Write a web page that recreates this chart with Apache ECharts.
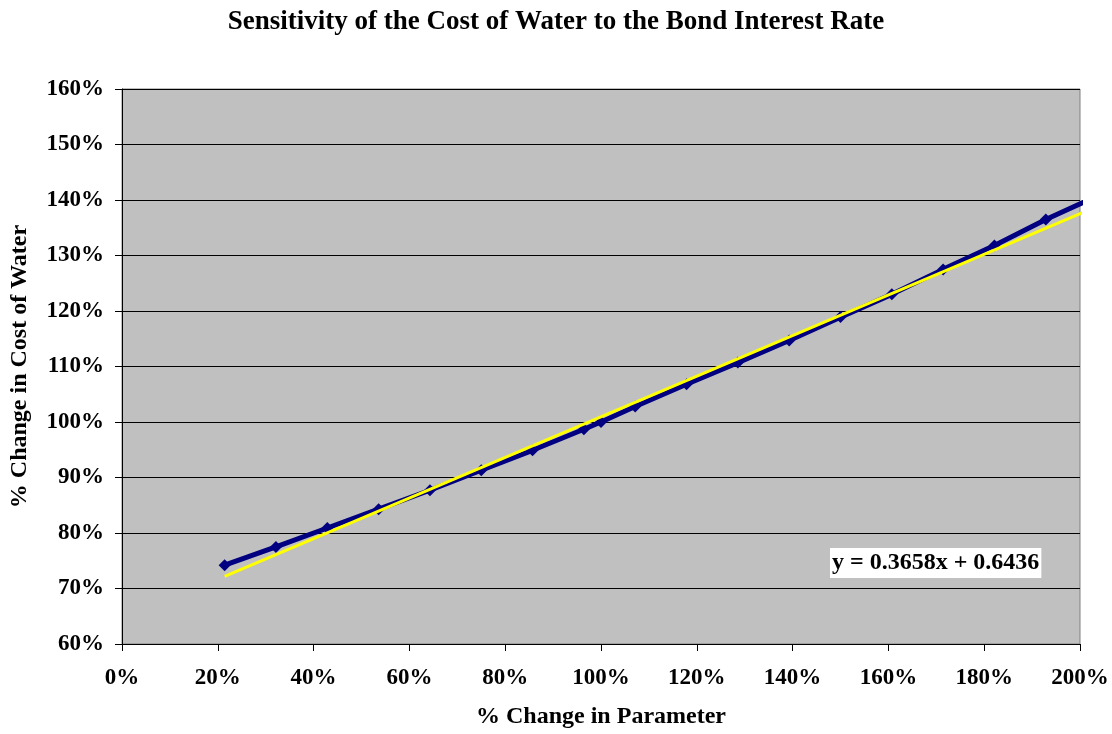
<!DOCTYPE html>
<html>
<head>
<meta charset="utf-8">
<script src="https://cdn.jsdelivr.net/npm/echarts@6/dist/echarts.min.js"></script>
<style>
  html, body { margin: 0; padding: 0; background: #ffffff; }
  #chart { width: 1112px; height: 734px; }
</style>
</head>
<body>
<div id="chart"></div>
<script>
// % change in the bond interest rate (fraction of the base rate)
const paramChange = [0.2143, 0.3214, 0.4286, 0.5357, 0.6429, 0.75, 0.8571, 0.9643, 1.0,
  1.0714, 1.1786, 1.2857, 1.3929, 1.5, 1.6071, 1.7143, 1.8214, 1.9286, 2.0357];
// resulting % change in the cost of water
const costChange = [0.742, 0.775, 0.809, 0.843, 0.877, 0.913, 0.949, 0.987, 1.0,
  1.028, 1.068, 1.107, 1.147, 1.189, 1.230, 1.275, 1.318, 1.365, 1.407];

// linear trendline
const trendSlope = 0.3658;
const trendIntercept = 0.6436;
const trendLabel = 'y = 0.3658x + 0.6436';

const serif = '"Liberation Serif", "Times New Roman", serif';
const pct = v => Math.round(v * 100) + '%';

const dataPts = paramChange.map((x, i) => [x, costChange[i]]);
const xFirst = paramChange[0];
const xLast = paramChange[paramChange.length - 1];
const trendPts = [[xFirst, trendSlope * xFirst + trendIntercept], [xLast, trendSlope * xLast + trendIntercept]];

const chart = echarts.init(document.getElementById('chart'));
chart.setOption({
  animation: false,
  backgroundColor: '#ffffff',
  title: {
    text: 'Sensitivity of the Cost of Water to the Bond Interest Rate',
    left: 'center', top: 4,
    textStyle: { fontFamily: serif, fontWeight: 'bold', fontSize: 27, color: '#000' }
  },
  grid: { left: 121, right: 32, top: 89, bottom: 89, show: true, backgroundColor: '#c0c0c0', borderColor: '#808080', borderWidth: 1 },
  xAxis: {
    type: 'value', min: 0, max: 2.0, interval: 0.2,
    name: '% Change in Parameter', nameLocation: 'middle', nameGap: 61,
    nameTextStyle: { fontFamily: serif, fontWeight: 'bold', fontSize: 24, color: '#000' },
    axisLine: { onZero: false, lineStyle: { color: '#000', width: 1 } },
    axisTick: { show: true, length: 7, lineStyle: { color: '#000' } },
    axisLabel: { formatter: pct, margin: 23, fontFamily: serif, fontWeight: 'bold', fontSize: 23, color: '#000' },
    splitLine: { show: false }
  },
  yAxis: {
    type: 'value', min: 0.6, max: 1.6, interval: 0.1,
    name: '% Change in Cost of Water', nameLocation: 'middle', nameGap: 90,
    nameTextStyle: { fontFamily: serif, fontWeight: 'bold', fontSize: 24, color: '#000' },
    axisLine: { show: true, lineStyle: { color: '#000', width: 1 } },
    axisTick: { show: true, length: 7, lineStyle: { color: '#000' } },
    axisLabel: { formatter: pct, margin: 18, fontFamily: serif, fontWeight: 'bold', fontSize: 23, color: '#000' },
    splitLine: { show: true, lineStyle: { color: '#000', width: 1 } }
  },
  series: [
    {
      name: 'Cost of Water', type: 'line', data: dataPts,
      symbol: 'diamond', symbolSize: 12,
      lineStyle: { color: '#000080', width: 5 },
      itemStyle: { color: '#000080' },
      z: 2
    },
    {
      name: 'Linear trend', type: 'line', data: trendPts,
      symbol: 'none',
      lineStyle: { color: '#ffff00', width: 3 },
      z: 3
    }
  ],
  graphic: [{
    type: 'text', left: 830, top: 548, z: 10,
    style: {
      text: trendLabel, fontFamily: serif, fontWeight: 'bold', fontSize: 24, fill: '#000',
      backgroundColor: '#ffffff', padding: [3, 2, 3, 2]
    }
  }]
});
</script>
</body>
</html>
